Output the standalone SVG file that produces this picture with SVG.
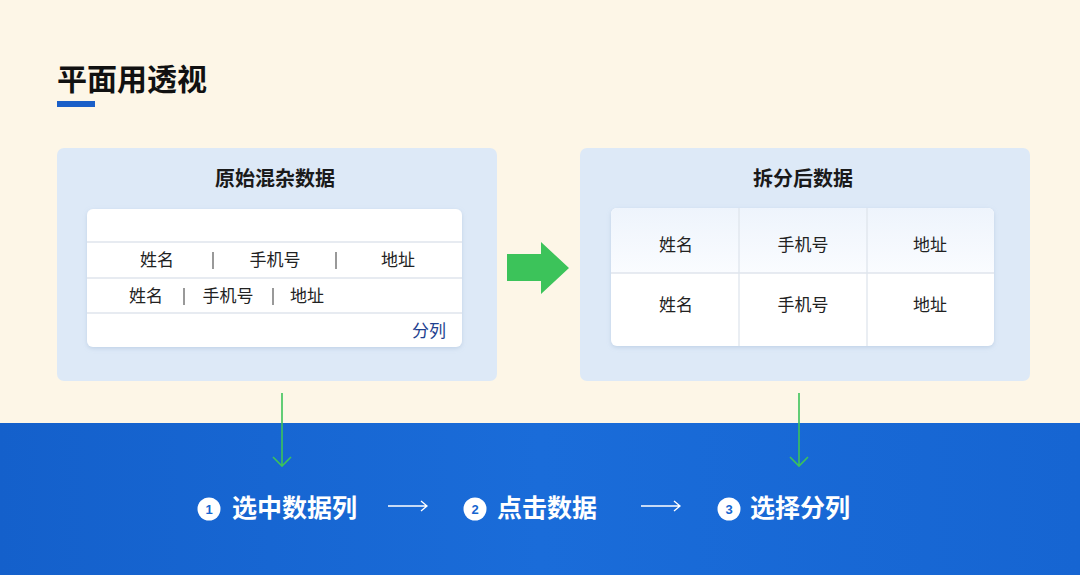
<svg xmlns="http://www.w3.org/2000/svg" width="1080" height="575" viewBox="0 0 1080 575">
  <defs>
    <style>
      .cjk { font-family: "Noto Sans CJK SC", "Noto Sans", sans-serif; }
      .title { font-size: 30px; font-weight: 700; fill: #111; }
      .ptitle { font-size: 20px; font-weight: 700; fill: #1a1a1a; text-anchor: middle; }
      .cell { font-size: 17px; fill: #222; text-anchor: middle; }
      .sep { stroke: #555; stroke-width: 1.2; }
      .rowline { stroke: #dfe5ed; stroke-width: 1.3; }
      .panel { fill: #dde9f7; }
      .card { fill: #ffffff; }
      .step { font-size: 25px; font-weight: 700; fill: #ffffff; }
      .num { font-size: 13px; font-weight: 700; fill: #1565d0; text-anchor: middle; font-family: "Liberation Sans", sans-serif; }
      .down { stroke: #3cc35a; stroke-width: 1.6; fill: none; }
      .flow { stroke: #ffffff; stroke-width: 1.3; fill: none; }
    </style>
    <linearGradient id="band" x1="0" y1="0" x2="1" y2="0">
      <stop offset="0" stop-color="#1460cb"/>
      <stop offset="0.5" stop-color="#1a6cd9"/>
      <stop offset="1" stop-color="#1665d2"/>
    </linearGradient>
    <linearGradient id="hdr" x1="0" y1="0" x2="0" y2="1">
      <stop offset="0" stop-color="#eef4fc"/>
      <stop offset="1" stop-color="#fafcff"/>
    </linearGradient>
    <filter id="sh" x="-10%" y="-10%" width="120%" height="130%">
      <feDropShadow dx="0" dy="1.5" stdDeviation="2" flood-color="#8aa6c8" flood-opacity="0.35"/>
    </filter>
  </defs>

  <!-- background -->
  <rect x="0" y="0" width="1080" height="423" fill="#fdf6e7"/>
  <rect x="0" y="423" width="1080" height="152" fill="url(#band)"/>

  <!-- title -->
  <g id="title">
    <text class="cjk title" x="57" y="90">平面用透视</text>
    <rect x="57" y="101" width="38" height="6" fill="#1a5fc8"/>
  </g>

  <!-- left panel -->
  <g id="panel-left">
    <rect class="panel" x="57" y="148" width="440" height="233" rx="7"/>
    <text class="cjk ptitle" x="275" y="186">原始混杂数据</text>
    <rect class="card" x="87" y="209" width="375" height="138" rx="6" filter="url(#sh)"/>
    <line class="rowline" x1="87" y1="242" x2="462" y2="242"/>
    <line class="rowline" x1="87" y1="278" x2="462" y2="278"/>
    <line class="rowline" x1="87" y1="313" x2="462" y2="313"/>
    <text class="cjk cell" x="157" y="266">姓名</text>
    <line class="sep" x1="213" y1="252" x2="213" y2="269"/>
    <text class="cjk cell" x="275" y="266">手机号</text>
    <line class="sep" x1="336" y1="252" x2="336" y2="269"/>
    <text class="cjk cell" x="398" y="266">地址</text>
    <text class="cjk cell" x="146" y="302">姓名</text>
    <line class="sep" x1="184" y1="288" x2="184" y2="305"/>
    <text class="cjk cell" x="228" y="302">手机号</text>
    <line class="sep" x1="273" y1="288" x2="273" y2="305"/>
    <text class="cjk cell" x="307" y="302">地址</text>
    <text class="cjk cell" x="429" y="337" style="fill:#1e3f8f">分列</text>
  </g>

  <!-- big arrow -->
  <g id="arrow-big">
    <polygon points="507,254 541,254 541,242 569,268 541,294 541,281 507,281" fill="#3cc35a"/>
  </g>

  <!-- right panel -->
  <g id="panel-right">
    <rect class="panel" x="580" y="148" width="450" height="233" rx="7"/>
    <text class="cjk ptitle" x="803" y="186">拆分后数据</text>
    <rect class="card" x="611" y="208" width="383" height="138" rx="6" filter="url(#sh)"/>
    <path d="M617,208 H988 a6,6 0 0 1 6,6 V273 H611 V214 a6,6 0 0 1 6,-6 Z" fill="url(#hdr)"/>
    <line class="rowline" x1="611" y1="273" x2="994" y2="273"/>
    <line class="rowline" x1="739" y1="208" x2="739" y2="346"/>
    <line class="rowline" x1="867" y1="208" x2="867" y2="346"/>
    <text class="cjk cell" x="676" y="251">姓名</text>
    <text class="cjk cell" x="803" y="251">手机号</text>
    <text class="cjk cell" x="930" y="251">地址</text>
    <text class="cjk cell" x="676" y="311">姓名</text>
    <text class="cjk cell" x="803" y="311">手机号</text>
    <text class="cjk cell" x="930" y="311">地址</text>
  </g>

  <!-- connectors -->
  <g id="connectors">
    <path class="down" d="M282,393 V466 M273,457 L282,466 L291,457"/>
    <path class="down" d="M799,393 V466 M790,457 L799,466 L808,457"/>
    <path class="flow" d="M388,506 H427 M421,501 L427,506 L421,511"/>
    <path class="flow" d="M641,506 H680 M674,501 L680,506 L674,511"/>
  </g>

  <!-- steps -->
  <g id="step1">
    <circle cx="209" cy="509" r="11.5" fill="#ffffff"/>
    <text class="num" x="209" y="513.5">1</text>
    <text class="cjk step" x="232" y="517">选中数据列</text>
  </g>
  <g id="step2">
    <circle cx="475" cy="509" r="11.5" fill="#ffffff"/>
    <text class="num" x="475" y="513.5">2</text>
    <text class="cjk step" x="497" y="517">点击数据</text>
  </g>
  <g id="step3">
    <circle cx="729" cy="509" r="11.5" fill="#ffffff"/>
    <text class="num" x="729" y="513.5">3</text>
    <text class="cjk step" x="750" y="517">选择分列</text>
  </g>
</svg>
